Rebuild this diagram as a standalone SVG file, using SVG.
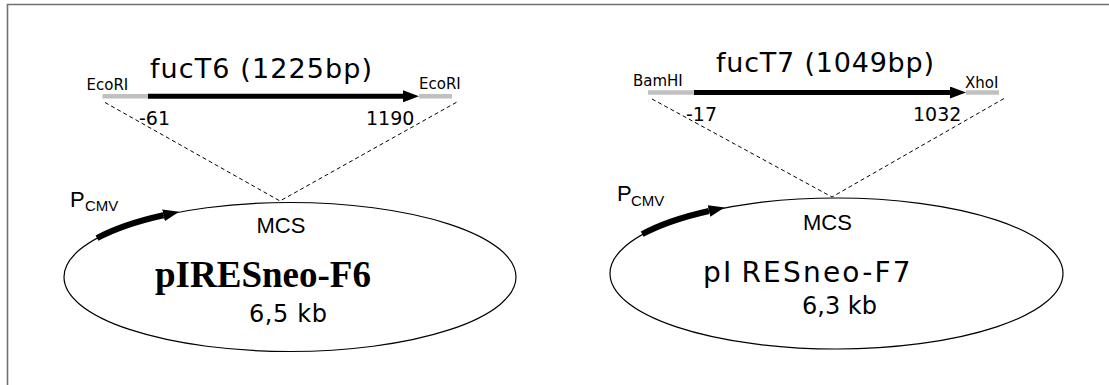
<svg xmlns="http://www.w3.org/2000/svg" width="1109" height="385" viewBox="0 0 1109 385">
  <defs>
    <style>
      .frame { fill: none; stroke: #707070; stroke-width: 1.6; }
      .site { stroke: #c0c0c0; stroke-width: 4.5; fill: none; }
      .cds { stroke: #000; stroke-width: 5; fill: none; }
      .prom { stroke: #000; stroke-width: 6; fill: none; }
      .plasmid { fill: none; stroke: #000; stroke-width: 1.2; }
      .insert { fill: none; stroke: #000; stroke-width: 1; stroke-dasharray: 4 3; }
      .title { font-family: "DejaVu Sans", sans-serif; font-size: 27px; fill: #000; }
      .enz { font-family: "DejaVu Sans", sans-serif; font-size: 15px; fill: #000; }
      .pos { font-family: "DejaVu Sans", sans-serif; font-size: 19px; fill: #000; }
      .mcs { font-family: "Liberation Sans", Arial, sans-serif; font-size: 22px; fill: #000; text-anchor: middle; }
      .p { font-family: "Liberation Sans", Arial, sans-serif; font-size: 22px; fill: #000; }
      .sub { font-family: "Liberation Sans", Arial, sans-serif; font-size: 15px; fill: #000; }
      .size { font-family: "DejaVu Sans", sans-serif; font-size: 24px; fill: #000; }
    </style>
    <marker id="head" markerUnits="userSpaceOnUse" viewBox="0 0 16 12" refX="0" refY="6" markerWidth="16" markerHeight="12" orient="auto">
      <path d="M0,0 L16,6 L0,12 z" fill="#000"/>
    </marker>
  </defs>

  <!-- frame (top and left edges only) -->
  <path class="frame" d="M7.5,385 V4.5 H1109"/>

  <!-- dashed insertion lines -->
  <g id="connectors">
    <path class="insert" d="M105,102.5 L280,201 L457,102"/>
    <path class="insert" d="M652,99 L832,197 L1004,98.5"/>
  </g>

  <!-- fucT6 insert -->
  <g id="insert-fucT6">
    <text class="title" x="150" y="78" textLength="222" lengthAdjust="spacing">fucT6 (1225bp)</text>
    <line class="site" x1="102.5" y1="96.3" x2="148" y2="96.3"/>
    <line class="site" x1="419" y1="96.3" x2="452" y2="96.3"/>
    <line class="cds" x1="148" y1="96.3" x2="403" y2="96.3" marker-end="url(#head)"/>
    <text class="enz" x="86.5" y="89.5">EcoRI</text>
    <text class="enz" x="419" y="89">EcoRI</text>
    <text class="pos" x="139" y="125">-61</text>
    <text class="pos" x="366" y="125">1190</text>
  </g>

  <!-- pIRESneo-F6 plasmid -->
  <g id="plasmid-F6">
    <ellipse class="plasmid" cx="290" cy="277" rx="226" ry="74.5"/>
    <path class="prom" d="M97,238.2 A226,74.5 0 0,1 163.5,215.3" marker-end="url(#head)"/>
    <text class="p" x="70" y="207">P<tspan class="sub" x="85" y="211">CMV</tspan></text>
    <text class="mcs" x="281" y="233">MCS</text>
    <text x="155" y="287" font-family="'Liberation Serif', 'Times New Roman', serif" font-weight="bold" font-size="37">pIRESneo-F6</text>
    <text class="size" x="249" y="322" font-size="25" letter-spacing="0.6">6,5 kb</text>
  </g>

  <!-- fucT7 insert -->
  <g id="insert-fucT7">
    <text class="title" x="716" y="71.5" textLength="218" lengthAdjust="spacing">fucT7 (1049bp)</text>
    <line class="site" x1="648" y1="92.5" x2="694" y2="92.5"/>
    <line class="site" x1="966" y1="92.5" x2="999" y2="92.5"/>
    <line class="cds" x1="694" y1="92.5" x2="950" y2="92.5" marker-end="url(#head)"/>
    <text class="enz" x="633" y="85.5">BamHI</text>
    <text class="enz" x="965" y="87.5">XhoI</text>
    <text class="pos" x="686" y="121">-17</text>
    <text class="pos" x="913" y="121">1032</text>
  </g>

  <!-- pIRESneo-F7 plasmid -->
  <g id="plasmid-F7">
    <ellipse class="plasmid" cx="836.5" cy="273.5" rx="226.5" ry="75.5"/>
    <path class="prom" d="M642.2,234.2 A226.5,75.5 0 0,1 709,211" marker-end="url(#head)"/>
    <text class="p" x="617" y="201">P<tspan class="sub" x="631" y="206">CMV</tspan></text>
    <text class="mcs" x="827.5" y="229.5">MCS</text>
    <text x="703" y="282" font-family="'DejaVu Sans', sans-serif" font-size="28" letter-spacing="2.2">pI<tspan dx="8">RESneo-F7</tspan></text>
    <text class="size" x="802" y="314">6,3 kb</text>
  </g>
</svg>
